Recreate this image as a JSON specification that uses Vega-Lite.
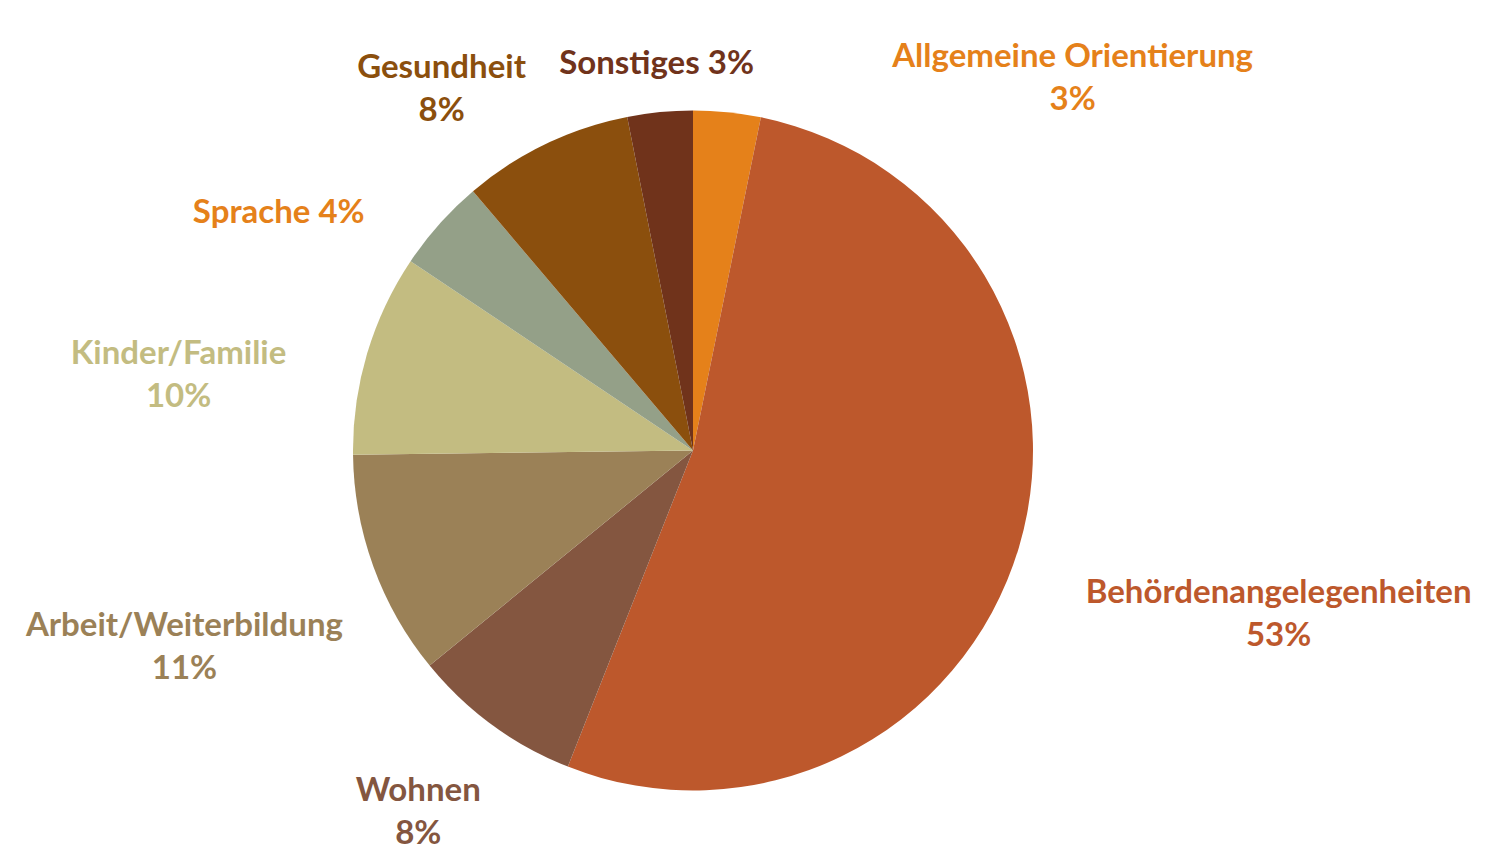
{
  "$schema": "https://vega.github.io/schema/vega-lite/v6.json",
  "width": 1386,
  "height": 809,
  "autosize": "none",
  "padding": {"left": 0, "top": 46, "right": 100, "bottom": 0},
  "background": "white",
  "config": {"view": {"stroke": null}},
  "data": {
    "values": [
      {"category": "Allgemeine Orientierung", "share": 3.2, "label": "Allgemeine Orientierung\n3%"},
      {"category": "Behördenangelegenheiten", "share": 52.8, "label": "Behördenangelegenheiten\n53%"},
      {"category": "Wohnen", "share": 8.1, "label": "Wohnen\n8%"},
      {"category": "Arbeit/Weiterbildung", "share": 10.7, "label": "Arbeit/Weiterbildung\n11%"},
      {"category": "Kinder/Familie", "share": 9.6, "label": "Kinder/Familie\n10%"},
      {"category": "Sprache", "share": 4.4, "label": "Sprache 4%"},
      {"category": "Gesundheit", "share": 8.1, "label": "Gesundheit\n8%"},
      {"category": "Sonstiges", "share": 3.1, "label": "Sonstiges 3%"}
    ]
  },
  "transform": [{"window": [{"op": "row_number", "as": "idx"}]}],
  "encoding": {
    "theta": {"field": "share", "type": "quantitative", "stack": true},
    "order": {"field": "idx", "type": "quantitative"}
  },
  "layer": [
    {
      "mark": {"type": "arc", "outerRadius": 340},
      "encoding": {
        "color": {
          "field": "category",
          "type": "nominal",
          "legend": null,
          "scale": {
            "domain": ["Allgemeine Orientierung", "Behördenangelegenheiten", "Wohnen", "Arbeit/Weiterbildung", "Kinder/Familie", "Sprache", "Gesundheit", "Sonstiges"],
            "range": ["#E5811A", "#BD582C", "#845640", "#9B8157", "#C3BC81", "#94A088", "#8B4F0D", "#70331B"]
          }
        }
      }
    },
    {
      "mark": {
        "type": "text",
        "font": "Lato",
        "fontWeight": "bold",
        "fontSize": 33,
        "lineHeight": 43,
        "lineBreak": "\n",
        "align": "center",
        "baseline": "middle",
        "dy": 3,
        "radius": {"expr": "datum.category == 'Allgemeine Orientierung' ? 549 : datum.category == 'Behördenangelegenheiten' ? 602 : datum.category == 'Wohnen' ? 435 : datum.category == 'Arbeit/Weiterbildung' ? 537 : datum.category == 'Kinder/Familie' ? 524 : datum.category == 'Sprache' ? 479 : datum.category == 'Gesundheit' ? 460 : 391"},
        "thetaOffset": {"expr": "datum.category == 'Allgemeine Orientierung' ? 0.663 : datum.category == 'Behördenangelegenheiten' ? -0.0553 : datum.category == 'Wohnen' ? 0.0522 : datum.category == 'Arbeit/Weiterbildung' ? 0.022 : datum.category == 'Kinder/Familie' ? -0.098 : datum.category == 'Sprache' ? -0.203 : datum.category == 'Gesundheit' ? -0.129 : 0.004"}
      },
      "encoding": {
        "text": {"field": "label", "type": "nominal"},
        "color": {
          "condition": {"test": "datum.category == 'Sprache'", "value": "#E5811A"},
          "field": "category",
          "type": "nominal",
          "legend": null
        }
      }
    }
  ]
}
